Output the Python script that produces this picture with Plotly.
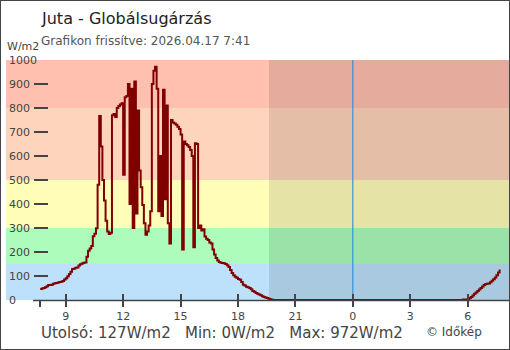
import pandas as pd
import plotly.graph_objects as go

# ---------------- data ----------------
start_time = "2026-04-16 07:40"
step = "5min"
radiation = [
    46, 48, 50, 53, 57, 62, 63, 64, 68, 70, 71, 73, 75, 76, 79, 85, 91, 99, 108, 118,
    129, 130, 134, 135, 144, 149, 152, 155, 156, 180, 205, 215, 225, 266, 276, 299,
    480, 767, 640, 500, 415, 330, 285, 275, 280, 770, 775, 762, 800, 808, 815, 820,
    522, 845, 850, 900, 400, 880, 300, 910,
    360, 790, 540, 470, 396, 320, 272, 285, 310, 370, 900, 955, 972, 880, 370, 600,
    350, 876, 420, 810, 320, 235, 750, 740,
    735, 730, 722, 712, 690, 210, 660, 650, 645, 637, 625, 600, 220, 653, 650, 300,
    310, 290, 295, 265, 255, 250, 240, 235,
    210, 190, 175, 165, 158, 155, 154, 153, 150, 145, 138, 125, 112, 103, 97, 93,
    88, 84, 75, 64, 60, 55, 53, 50, 45, 38, 34, 29, 26, 23, 20, 16, 13, 10, 8, 5,
    3, 1, 0,
    0, 0, 0, 0, 0, 0, 0, 0, 0, 0, 0, 0, 0, 0, 0, 0, 0, 0, 0, 0,
    0, 0, 0, 0, 0, 0, 0, 0, 0, 0, 0, 0, 0, 0, 0, 0, 0, 0, 0, 0,
    0, 0, 0, 0, 0, 0, 0, 0, 0, 0, 0, 0, 0, 0, 0, 0, 0, 0, 0, 0,
    0, 0, 0, 0, 0, 0, 0, 0, 0, 0, 0, 0, 0, 0, 0, 0, 0, 0, 0, 0,
    0, 0, 0, 0, 0, 0, 0, 0, 0, 0, 0, 0, 0, 0, 0, 0, 0, 0, 0, 0,
    0, 0, 0, 0, 0, 0, 0, 0, 0, 0, 0, 0, 0, 0, 0, 0, 0, 0,
    2, 2, 2, 3, 8, 13, 19, 26, 31, 38, 44, 50, 56, 63, 67, 68, 69, 74, 80, 86,
    94, 103, 115, 127,
]
x_tick_hours = [7.667, 9, 12, 15, 18, 21, 24, 27, 30]
x_tick_labels = ["", "9", "12", "15", "18", "21", "0", "3", "6"]
y_ticks = [0, 100, 200, 300, 400, 500, 600, 700, 800, 900, 1000]
band_edges = [0, 150, 300, 500, 800, 1000]
band_colors = ["#BDE0FB", "#ADFCBB", "#FFFDB8", "#FFD4BC", "#FFC0B0"]
sunset_hour = 19.62
midnight_hour = 24
x_range = [5.881, 32.158]

station = "Juta"
title_text = f"{station} - Globálsugárzás"
updated_text = "Grafikon frissítve: 2026.04.17 7:41"

# ---------------- derived ----------------
times = pd.date_range(start_time, periods=len(radiation), freq=step)
hours = list((times - pd.Timestamp("2026-04-16")) / pd.Timedelta(hours=1))

FONT = "DejaVu Sans"
TXT = "#444444"
W, H = 510, 350
ML, MR, MT, MB = 6, 1, 60, 50
PW, PH = W - ML - MR, H - MT - MB


def px_x(px):
    return (px - ML) / PW


def px_y(py):
    return (H - MB - py) / PH


fig = go.Figure()
fig.add_trace(go.Scatter(
    x=hours, y=radiation, mode="lines",
    line=dict(color="#800000", width=2, shape="hv"),
    hoverinfo="skip", showlegend=False,
))
fig.add_trace(go.Scatter(x=[None], y=[None], xaxis="x2", yaxis="y2",
                         showlegend=False, hoverinfo="skip"))

shapes = []
for i, c in enumerate(band_colors):
    shapes.append(dict(type="rect", xref="paper", yref="y", x0=0, x1=1,
                       y0=band_edges[i], y1=band_edges[i + 1],
                       fillcolor=c, line_width=0, layer="below"))
shapes.append(dict(type="rect", xref="x", yref="y", x0=sunset_hour, x1=x_range[1] + 1,
                   y0=0, y1=1000, fillcolor="rgba(0,0,0,0.1)", line_width=0,
                   layer="below"))
shapes.append(dict(type="line", xref="x", yref="paper", x0=midnight_hour,
                   x1=midnight_hour, y0=0, y1=1, line=dict(color="#2196F3", width=1),
                   layer="below"))
# x axis base line
shapes.append(dict(type="line", xref="x", yref="paper", x0=7.292, x1=x_range[1] + 1,
                   y0=px_y(300.5), y1=px_y(300.5), line=dict(color=TXT, width=1.5)))
# outer frame
shapes.append(dict(type="rect", xref="paper", yref="paper", x0=px_x(0), x1=px_x(W),
                   y0=px_y(H), y1=px_y(0), line=dict(color=TXT, width=2)))

vmin, vmax, vlast = min(radiation), max(radiation), radiation[-1]
nb = "\u00a0"
stats = f"Utolsó: {vlast}W/m2{nb*3}Min: {vmin}W/m2{nb*3}Max: {vmax}W/m2"

annotations = [
    dict(text=title_text, xref="paper", yref="paper", x=px_x(39), y=px_y(19),
         xanchor="left", yanchor="middle", showarrow=False,
         font=dict(family=FONT, size=16, color="#222222")),
    dict(text=updated_text, xref="paper", yref="paper", x=px_x(39), y=px_y(41),
         xanchor="left", yanchor="middle", showarrow=False,
         font=dict(family=FONT, size=12, color="#555555")),
    dict(text="W/m2", xref="paper", yref="paper", x=px_x(5), y=px_y(47),
         xanchor="left", yanchor="middle", showarrow=False,
         font=dict(family=FONT, size=11, color=TXT)),
    dict(text=stats, xref="paper", yref="paper", x=px_x(39), y=px_y(333),
         xanchor="left", yanchor="middle", showarrow=False,
         font=dict(family=FONT, size=15, color=TXT)),
    dict(text="© Időkép", xref="paper", yref="paper", x=px_x(424), y=px_y(331.5),
         xanchor="left", yanchor="middle", showarrow=False,
         font=dict(family=FONT, size=12, color=TXT)),
]

fig.update_layout(
    width=W, height=H, autosize=False,
    margin=dict(l=ML, r=MR, t=MT, b=MB, pad=0),
    paper_bgcolor="white", plot_bgcolor="white",
    shapes=shapes, annotations=annotations,
    xaxis=dict(range=x_range, tickmode="array", tickvals=x_tick_hours,
               ticktext=x_tick_labels, ticks="outside", ticklen=6, tickwidth=1.5,
               tickcolor=TXT, showgrid=False, zeroline=False, showline=False,
               tickfont=dict(family=FONT, size=11, color=TXT), fixedrange=True),
    xaxis2=dict(range=x_range, overlaying="x", anchor="y", side="bottom",
                tickmode="array", tickvals=x_tick_hours[1:], ticks="inside",
                ticklen=6, tickwidth=1.5, tickcolor=TXT, showticklabels=False,
                showgrid=False, zeroline=False, showline=False),
    yaxis=dict(range=[0, 1000], tickmode="array", tickvals=y_ticks,
               ticks="", ticklabelposition="inside", ticklabeloverflow="allow",
               showgrid=False, zeroline=False, showline=False,
               tickfont=dict(family=FONT, size=11, color=TXT), fixedrange=True),
    yaxis2=dict(range=[0, 1000], overlaying="y", anchor="free", side="left",
                position=px_x(33), tickmode="array", tickvals=y_ticks[1:],
                ticks="inside", ticklen=14, tickwidth=1.5, tickcolor=TXT,
                showticklabels=False, showgrid=False, zeroline=False,
                showline=False),
)

fig.write_html("out.html")
